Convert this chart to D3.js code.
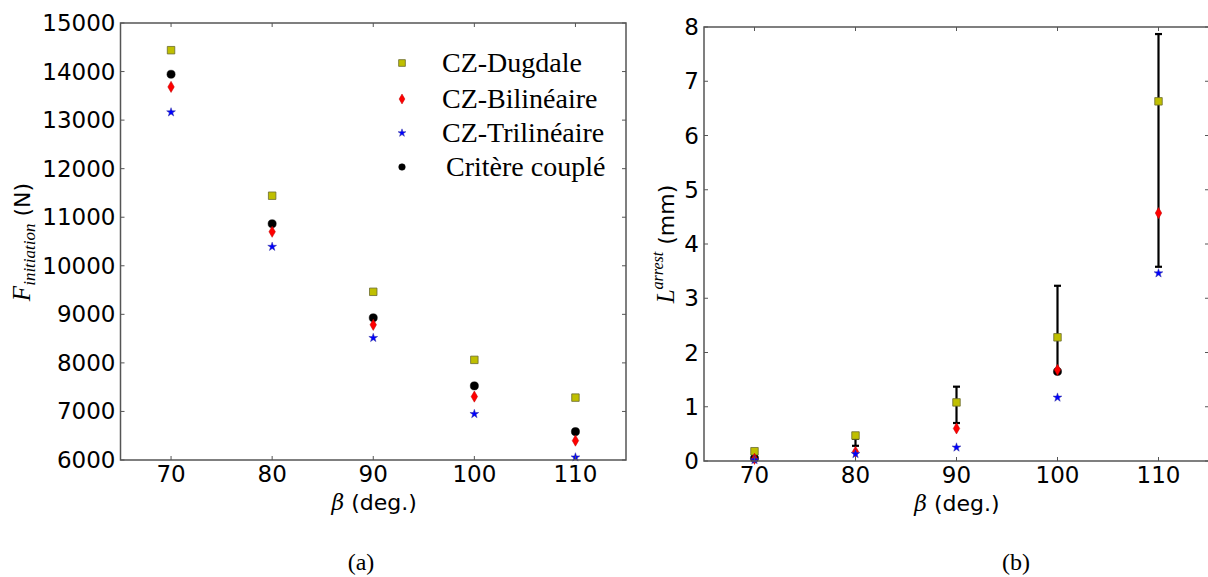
<!DOCTYPE html>
<html>
<head>
<meta charset="utf-8">
<script src="https://cdn.jsdelivr.net/npm/d3@7"></script>
<style>
  body { margin: 0; background: #fff; }
  svg { display: block; }
</style>
</head>
<body>
<svg id="chart" width="1208" height="577"></svg>
<script>

// angles beta (deg.)
var betas = [70, 80, 90, 100, 110];

// (a) initiation force (N)
var fDugdale = [14440, 11443, 9464, 8062, 7285];
var fBilin = [13684, 10701, 8784, 7306, 6399];
var fTrilin = [13161, 10392, 8515, 6948, 6055];
var fCouple = [13944, 10866, 8928, 7526, 6584];

// (b) arrest length (mm)
var lDugdale = [0.18, 0.47, 1.08, 2.28, 6.63];
var lBilin = [0.04, 0.17, 0.60, 1.68, 4.57];
var lTrilin = [0.02, 0.13, 0.25, 1.17, 3.46];
var lCouple = [0.05, null, null, 1.65, null];
var lErrLow = [0.04, 0.28, 0.70, 1.63, 3.58];
var lErrHigh = [0.12, 0.41, 1.37, 3.23, 7.87];

var xTicks = [70, 80, 90, 100, 110];
var fTicks = [6000, 7000, 8000, 9000, 10000, 11000, 12000, 13000, 14000, 15000];
var lTicks = [0, 1, 2, 3, 4, 5, 6, 7, 8];

var legendNames = ["CZ-Dugdale", "CZ-Bilinéaire", "CZ-Trilinéaire", "Critère couplé"];

var svg = d3.select("#chart");
var tickFont = "'DejaVu Sans', sans-serif";

var markers = {
    square: { type: d3.symbolSquare, size: 56, fill: "#bfbf00", stroke: "#6b6b30", sw: 0.8 },
    circle: { type: d3.symbolCircle, size: 52, fill: "#000", stroke: "#000", sw: 0.5 },
    diamond: { type: d3.symbolDiamond, size: 36, fill: "#ff0000", stroke: "#b00", sw: 0.5 },
    star: { type: d3.symbolStar, size: 24, fill: "#0000ff", stroke: "#3030a0", sw: 0.5 }
};

function drawMarks(g, xs, ys, vals, m) {
    var pts = betas.map((b, i) => [b, vals[i]]).filter(d => d[1] != null);
    g.append("g")
        .selectAll("path")
        .data(pts)
        .enter()
        .append("path")
        .attr("d", d3.symbol().type(m.type).size(m.size))
        .attr("transform", d => "translate(" + xs(d[0]) + "," + ys(d[1]) + ")")
        .attr("fill", m.fill)
        .attr("stroke", m.stroke)
        .attr("stroke-width", m.sw);
}

function frame(g, xs, ys, yTicks, fmt, x0, x1, y0, y1) {
    // inward ticks on the four sides
    var tl = 4;
    var tk = g.append("g").attr("stroke", "#555").attr("stroke-width", 1);
    xTicks.forEach(t => {
        tk.append("line").attr("x1", xs(t)).attr("x2", xs(t)).attr("y1", y0).attr("y2", y0 - tl);
        tk.append("line").attr("x1", xs(t)).attr("x2", xs(t)).attr("y1", y1).attr("y2", y1 + tl);
    });
    yTicks.forEach(t => {
        tk.append("line").attr("x1", x0).attr("x2", x0 + tl).attr("y1", ys(t)).attr("y2", ys(t));
        tk.append("line").attr("x1", x1).attr("x2", x1 - tl).attr("y1", ys(t)).attr("y2", ys(t));
    });
    g.append("rect")
        .attr("x", x0).attr("y", y1)
        .attr("width", x1 - x0).attr("height", y0 - y1)
        .attr("fill", "none")
        .attr("stroke", "#555")
        .attr("stroke-width", 1.5);

    g.append("g")
        .selectAll("text")
        .data(xTicks)
        .enter()
        .append("text")
        .attr("x", d => xs(d))
        .attr("y", y0 + 22)
        .attr("text-anchor", "middle")
        .attr("font-family", tickFont)
        .attr("font-size", 23)
        .text(d => d);

    g.append("g")
        .selectAll("text")
        .data(yTicks)
        .enter()
        .append("text")
        .attr("x", x0 - 5)
        .attr("y", d => ys(d) + 8)
        .attr("text-anchor", "end")
        .attr("font-family", tickFont)
        .attr("font-size", 23)
        .text(d => fmt(d));

    var xl = g.append("text")
        .attr("x", (x0 + Math.min(x1, 1208)) / 2 + 1)
        .attr("y", y0 + 50)
        .attr("text-anchor", "middle")
        .attr("font-family", tickFont)
        .attr("font-size", 22);
    xl.append("tspan").attr("font-family", "'DejaVu Serif', serif").attr("font-style", "italic").text("β");
    xl.append("tspan").text(" (deg.)");
}

// ---------- (a) ----------
var xA = d3.scaleLinear().domain([65, 115]).range([120.5, 626]);
var yA = d3.scaleLinear().domain([6000, 15000]).range([460, 23]);
var gA = svg.append("g");

drawMarks(gA, xA, yA, fDugdale, markers.square);
drawMarks(gA, xA, yA, fCouple, markers.circle);
drawMarks(gA, xA, yA, fBilin, markers.diamond);
drawMarks(gA, xA, yA, fTrilin, markers.star);
frame(gA, xA, yA, fTicks, d3.format("d"), 120.5, 626, 460, 23);

var ylA = gA.append("text")
    .attr("transform", "translate(30,242) rotate(-90)")
    .attr("text-anchor", "middle")
    .attr("font-size", 22);
ylA.append("tspan").attr("font-family", "'Liberation Serif', serif").attr("font-style", "italic").attr("font-size", 25).text("F");
ylA.append("tspan").attr("font-family", "'Liberation Serif', serif").attr("font-style", "italic").attr("font-size", 17).attr("dy", 5).text("initiation");
ylA.append("tspan").attr("font-family", tickFont).attr("dy", -5).text(" (N)");

// legend
var legendMarks = [markers.square, markers.diamond, markers.star, markers.circle];
var legendY = [63, 99, 133, 167];
var lg = gA.append("g");
lg.selectAll("path")
    .data(legendMarks)
    .enter()
    .append("path")
    .attr("d", d => d3.symbol().type(d.type).size(d === markers.circle ? 34 : d.size * 0.8)())
    .attr("transform", (d, i) => "translate(402," + legendY[i] + ")")
    .attr("fill", d => d.fill)
    .attr("stroke", d => d.stroke)
    .attr("stroke-width", d => d.sw);
lg.selectAll("text")
    .data(legendNames)
    .enter()
    .append("text")
    .attr("x", (d, i) => i == 3 ? 446 : 442)
    .attr("y", (d, i) => legendY[i] + 9)
    .attr("font-family", "'Liberation Serif', serif")
    .attr("font-size", 28)
    .text(d => d);

// ---------- (b) ----------
var xB = d3.scaleLinear().domain([65, 115]).range([704, 1209]);
var yB = d3.scaleLinear().domain([0, 8]).range([461, 27]);
var gB = svg.append("g");

// error bars
var eb = gB.append("g").attr("stroke", "#000").attr("stroke-width", 2.2);
betas.forEach((b, i) => {
    var x = xB(b);
    eb.append("line").attr("x1", x).attr("x2", x).attr("y1", yB(lErrLow[i])).attr("y2", yB(lErrHigh[i]));
    eb.append("line").attr("x1", x - 3.5).attr("x2", x + 3.5).attr("y1", yB(lErrLow[i])).attr("y2", yB(lErrLow[i]));
    eb.append("line").attr("x1", x - 3.5).attr("x2", x + 3.5).attr("y1", yB(lErrHigh[i])).attr("y2", yB(lErrHigh[i]));
});

drawMarks(gB, xB, yB, lCouple, markers.circle);
drawMarks(gB, xB, yB, lDugdale, markers.square);
drawMarks(gB, xB, yB, lBilin, markers.diamond);
drawMarks(gB, xB, yB, lTrilin, markers.star);
frame(gB, xB, yB, lTicks, d3.format("d"), 704, 1209, 461, 27);

var ylB = gB.append("text")
    .attr("transform", "translate(674,244) rotate(-90)")
    .attr("text-anchor", "middle")
    .attr("font-size", 22);
ylB.append("tspan").attr("font-family", "'Liberation Serif', serif").attr("font-style", "italic").attr("font-size", 25).text("L");
ylB.append("tspan").attr("font-family", "'Liberation Serif', serif").attr("font-style", "italic").attr("font-size", 16).attr("dy", -11).text("arrest");
ylB.append("tspan").attr("font-family", tickFont).attr("dy", 11).text("  (mm)");

// subfigure captions
svg.append("g")
    .selectAll("text")
    .data(["(a)", "(b)"])
    .enter()
    .append("text")
    .attr("x", (d, i) => i == 0 ? 361 : 1016)
    .attr("y", 570)
    .attr("text-anchor", "middle")
    .attr("font-family", "'Liberation Serif', serif")
    .attr("font-size", 24)
    .text(d => d);

</script>
</body>
</html>
